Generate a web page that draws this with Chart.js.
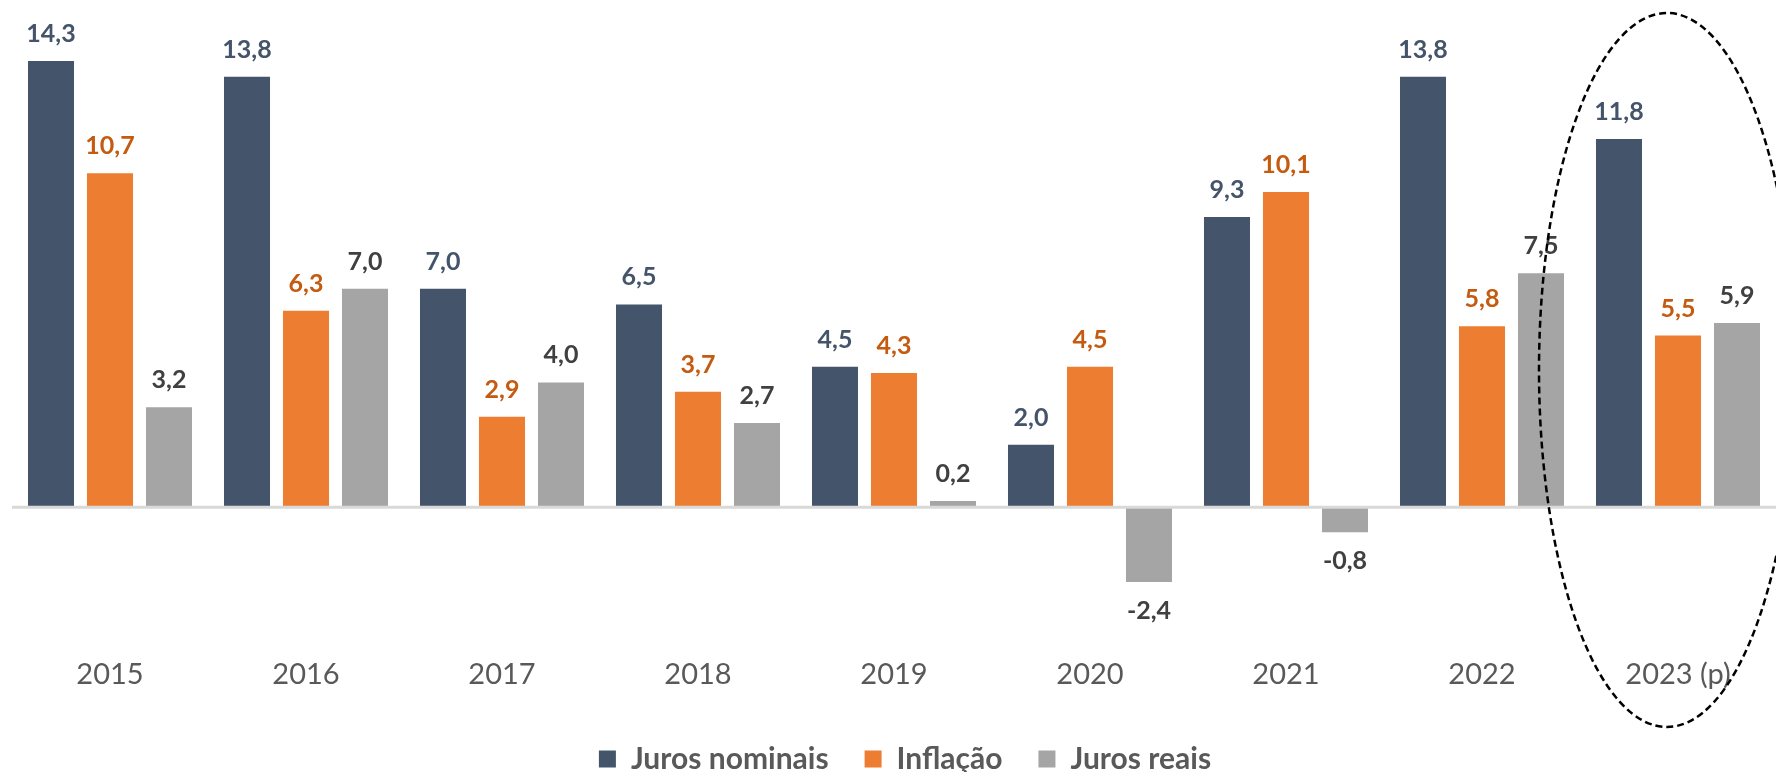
<!DOCTYPE html>
<html>
<head>
<meta charset="utf-8">
<script src="https://cdn.jsdelivr.net/npm/chart.js@4.4.1/dist/chart.umd.min.js"></script>
<style>
  html, body { margin: 0; padding: 0; background: #ffffff; }
  #wrap { width: 1776px; height: 772px; }
</style>
</head>
<body>
<div id="wrap"><canvas id="c" width="1776" height="772"></canvas></div>
<script>
const categories = ['2015', '2016', '2017', '2018', '2019', '2020', '2021', '2022', '2023 (p)'];
const jurosNominais = [14.3, 13.8, 7.0, 6.5, 4.5, 2.0, 9.3, 13.8, 11.8];
const inflacao = [10.7, 6.3, 2.9, 3.7, 4.3, 4.5, 10.1, 5.8, 5.5];
const jurosReais = [3.2, 7.0, 4.0, 2.7, 0.2, -2.4, -0.8, 7.5, 5.9];
const seriesNames = ['Juros nominais', 'Inflação', 'Juros reais'];
const highlightedCategory = '2023 (p)';

const barColors = ['#44546A', '#ED7D31', '#A5A5A5'];
const labelColors = ['#44546A', '#C55A11', '#404040'];
const FONT = 'Lato, "Open Sans", "DejaVu Sans", sans-serif';

const fmt = v => v.toFixed(1).replace('.', ',');

const zeroLinePlugin = {
  id: 'zeroLine',
  afterDatasetsDraw(chart) {
    const { ctx, chartArea, scales } = chart;
    const y0 = scales.y.getPixelForValue(0);
    ctx.save();
    ctx.strokeStyle = '#D9D9D9';
    ctx.lineWidth = 3;
    ctx.beginPath();
    ctx.moveTo(chartArea.left, y0);
    ctx.lineTo(chartArea.right, y0);
    ctx.stroke();
    ctx.restore();
  }
};

const valueLabelPlugin = {
  id: 'valueLabels',
  afterDatasetsDraw(chart) {
    const { ctx } = chart;
    ctx.save();
    ctx.font = 'bold 25px ' + FONT;
    ctx.textAlign = 'center';
    ctx.textBaseline = 'middle';
    chart.data.datasets.forEach((ds, di) => {
      const meta = chart.getDatasetMeta(di);
      ctx.fillStyle = labelColors[di];
      meta.data.forEach((el, i) => {
        const v = ds.data[i];
        const y = v >= 0 ? el.y - 27 : el.y + 29;
        ctx.fillText(fmt(v), el.x, y);
      });
    });
    ctx.restore();
  }
};

const legendShiftPlugin = {
  id: 'legendShift',
  afterLayout(chart) {
    if (chart.legend) {
      chart.legend.top += 12;
      chart.legend.bottom += 12;
      chart.legend.left += 11;
      chart.legend.right += 11;
    }
  }
};

const ellipsePlugin = {
  id: 'highlightEllipse',
  afterDraw(chart) {
    const { ctx, scales } = chart;
    const idx = categories.indexOf(highlightedCategory);
    const cx = scales.x.getPixelForValue(idx) - 11;
    const top = 13, bottom = 727;
    ctx.save();
    ctx.strokeStyle = '#000000';
    ctx.lineWidth = 2.5;
    ctx.setLineDash([7, 4]);
    ctx.beginPath();
    ctx.ellipse(cx, (top + bottom) / 2, 128, (bottom - top) / 2, 0, 0, Math.PI * 2);
    ctx.stroke();
    ctx.restore();
  }
};

new Chart(document.getElementById('c'), {
  type: 'bar',
  data: {
    labels: categories,
    datasets: [jurosNominais, inflacao, jurosReais].map((d, i) => ({
      label: seriesNames[i],
      data: d,
      backgroundColor: barColors[i],
      borderWidth: 0,
      categoryPercentage: 0.903,
      barPercentage: 0.78
    }))
  },
  options: {
    responsive: false,
    animation: false,
    devicePixelRatio: 1,
    layout: { padding: { left: 12, right: 0, top: 8, bottom: 0 } },
    plugins: {
      legend: {
        position: 'bottom',
        labels: {
          boxWidth: 17,
          boxHeight: 17,
          padding: 36,
          color: '#595959',
          font: { family: FONT, size: 30, weight: 'bold' }
        }
      },
      tooltip: { enabled: false }
    },
    scales: {
      x: {
        grid: { display: false, drawTicks: false },
        border: { display: false },
        ticks: {
          color: '#595959',
          padding: 25,
          font: { family: FONT, size: 29 }
        },
        afterFit(scale) { scale.height = 64; }
      },
      y: {
        display: false,
        min: -4,
        max: 16
      }
    }
  },
  plugins: [zeroLinePlugin, valueLabelPlugin, legendShiftPlugin, ellipsePlugin]
});
</script>
</body>
</html>
